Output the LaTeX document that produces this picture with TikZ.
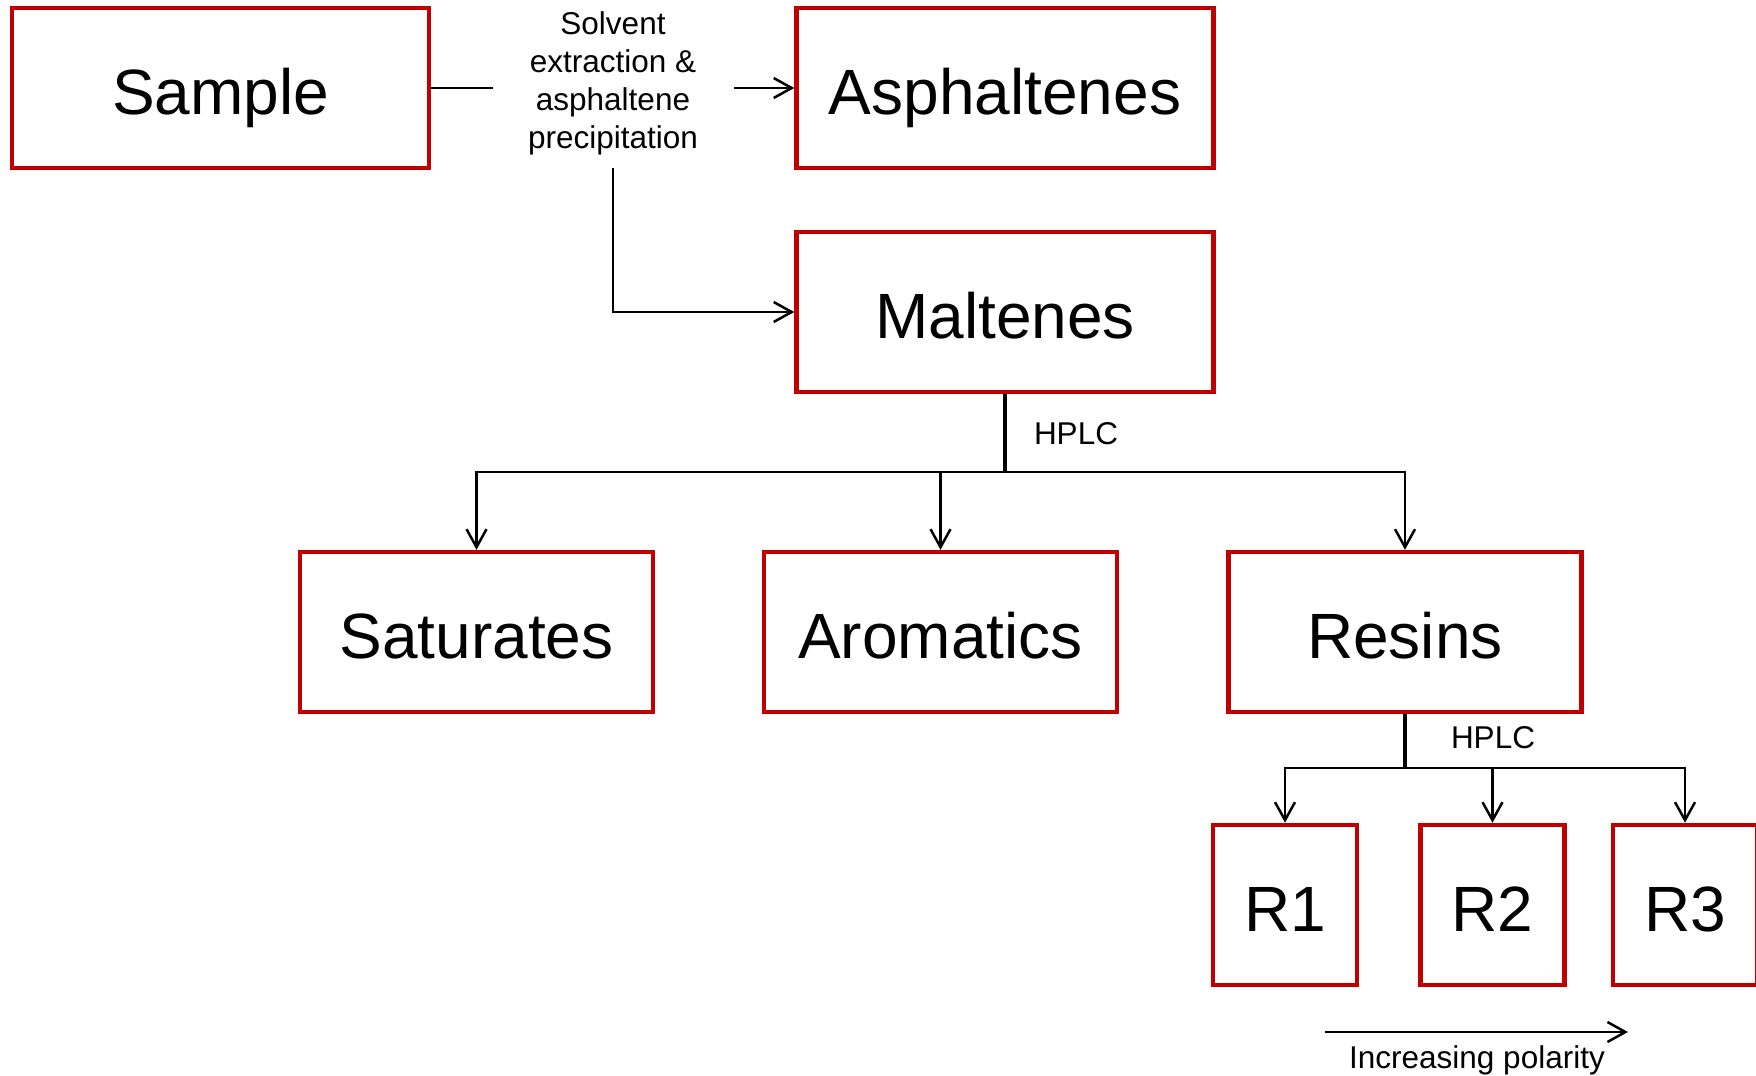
\documentclass[tikz,border=0pt]{standalone}
\usepackage{fontspec}
\setmainfont{Liberation Sans}
\usetikzlibrary{arrows.meta}
\definecolor{boxred}{RGB}{192,0,0}
\tikzset{
  box/.style={draw=boxred, line width=2.25pt, inner sep=0pt, minimum height=80pt,
    font=\fontsize{32}{36}\selectfont, text height=26pt, text depth=0pt},
  widebox/.style={box, minimum width=208.5pt},
  midbox/.style={box, minimum width=176.5pt},
  rbox/.style={box, minimum width=72pt},
  conn/.style={line width=1.25pt, draw=black},
  thickconn/.style={line width=1.75pt, draw=black},
  arr/.style={conn, -{Straight Barb[length=9pt,width=10pt,line width=1.25pt]}},
  small/.style={font=\fontsize{15.75}{19}\selectfont, inner sep=0pt}
}
\begin{document}
\begin{tikzpicture}[x=0.5pt,y=-0.5pt]
\useasboundingbox (0,0) rectangle (1756,1076);
% boxes
\node[widebox] (sample) at (220.5,88) {Sample};
\node[widebox] (asph) at (1005,88) {Asphaltenes};
\node[widebox] (malt) at (1005,312) {Maltenes};
\node[midbox] (sat) at (476.5,632) {Saturates};
\node[midbox] (aro) at (940.5,632) {Aromatics};
\node[midbox] (res) at (1405,632) {Resins};
\node[rbox] (r1) at (1285,905) {R1};
\node[rbox] (r2) at (1492.5,905) {R2};
\node[rbox] (r3) at (1685,905) {R3};
% labels
\node[small, align=center] (proc) at (613,83) {Solvent\\extraction \&\\asphaltene\\precipitation};
\node[small, anchor=base] (hplc1) at (1076,444) {HPLC};
\node[small, anchor=base] (hplc2) at (1493,748) {HPLC};
\node[small, anchor=base] (pol) at (1477,1068) {Increasing polarity};
% coordinates
\coordinate (sampEnd) at (493,88);
\coordinate (asphStart) at (734,88);
\coordinate (procDown) at (613,168);
\coordinate (hplcJ) at (1005,472);
\coordinate (resJ) at (1405,768);
\coordinate (polA) at (1325,1032);
\coordinate (polB) at (1628,1032);
% connectors
\draw[conn] (sample.east) -- (sampEnd);
\draw[arr] (asphStart) -- (asph.west);
\draw[arr] (procDown) |- (malt.west);
\draw[thickconn] (malt.south) -- (hplcJ);
\draw[conn] (sat.north |- hplcJ) -- (res.north |- hplcJ);
\draw[arr] (hplcJ) -| (sat.north);
\draw[arr] (hplcJ) -| (aro.north);
\draw[arr] (hplcJ) -| (res.north);
\draw[thickconn] (res.south) -- (resJ);
\draw[conn] (r1.north |- resJ) -- (r3.north |- resJ);
\draw[arr] (resJ) -| (r1.north);
\draw[arr] (resJ) -| (r2.north);
\draw[arr] (resJ) -| (r3.north);
\draw[arr] (polA) -- (polB);
\end{tikzpicture}
\end{document}
